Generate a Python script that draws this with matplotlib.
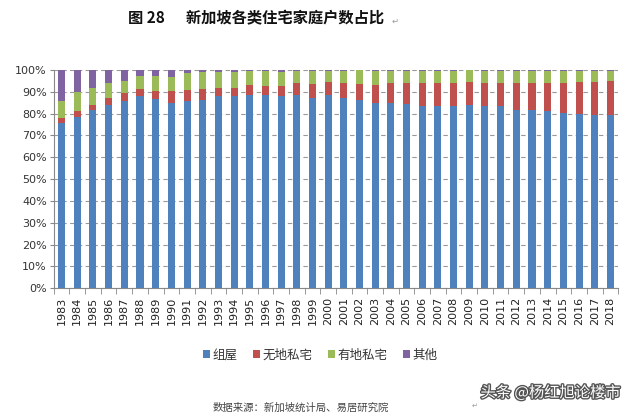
import matplotlib
matplotlib.use("Agg")
import matplotlib.pyplot as plt
import matplotlib.patheffects as pe
import numpy as np

plt.rcParams['font.family'] = ['Noto Sans CJK SC', 'DejaVu Sans']

years = [str(y) for y in range(1983, 2019)]
hdb = [75.5, 78.5, 81.5, 84.0, 86.0, 87.9, 86.7, 84.8, 86.0, 86.4, 88.2, 88.2,
       88.6, 88.6, 87.9, 88.6, 87.1, 88.6, 87.1, 86.1, 84.8, 84.8, 84.5, 83.3,
       83.6, 83.3, 84.1, 83.6, 83.3, 81.5, 81.8, 81.1, 80.3, 80.0, 79.5, 79.5]
condo = [2.5, 2.5, 2.5, 3.0, 3.5, 3.3, 3.5, 5.4, 5.0, 4.8, 3.5, 3.8,
         4.6, 4.1, 4.8, 5.3, 6.5, 6.1, 6.8, 7.6, 8.4, 9.1, 9.7, 10.9,
         10.6, 10.6, 10.3, 10.6, 10.6, 12.7, 12.4, 12.8, 13.6, 14.7, 15.2, 15.7]
landed = [8.0, 9.0, 8.0, 7.0, 5.5, 6.1, 7.1, 6.8, 7.6, 7.8, 7.4, 7.1,
          6.4, 7.0, 6.5, 5.8, 6.0, 5.0, 5.8, 6.1, 6.5, 5.8, 5.5, 5.5,
          5.5, 5.8, 5.5, 5.5, 5.8, 5.5, 5.5, 5.8, 5.8, 5.0, 5.0, 4.5]
other = [round(100 - a - b - c, 2) for a, b, c in zip(hdb, condo, landed)]

series = [("组屋", hdb, "#4F81BD"), ("无地私宅", condo, "#C0504D"),
          ("有地私宅", landed, "#9BBB59"), ("其他", other, "#8064A2")]

fig = plt.figure(figsize=(6.4, 4.17), dpi=100)
ax = fig.add_axes([0.084, 0.309, 0.882, 0.523])

x = np.arange(len(years))
bottom = np.zeros(len(years))
for name, vals, col in series:
    v = np.array(vals, dtype=float)
    ax.bar(x, v, 0.45, bottom=bottom, color=col, label=name, zorder=3)
    bottom += v

ax.set_xlim(-0.5, len(years) - 0.5)
ax.set_ylim(0, 100)
ax.set_yticks(np.arange(0, 101, 10))
ax.set_yticklabels([f"{v}%" for v in range(0, 101, 10)], fontsize=8, color="#333333",
                   family=['DejaVu Sans'])
ax.yaxis.grid(True, linestyle=(0, (4, 3)), color="#999999", linewidth=0.8, zorder=0)
ax.tick_params(axis='y', length=3, color="#888888", pad=2)

ax.set_xticks(x)
ax.set_xticklabels(years, rotation=90, fontsize=8, color="#222222", family=['DejaVu Sans'])
ax.set_xticks(np.arange(-0.5, len(years), 1), minor=True)
ax.tick_params(axis='x', which='major', length=0, pad=6)
ax.tick_params(axis='x', which='minor', length=4, color="#888888")

for s in ['top', 'right']:
    ax.spines[s].set_visible(False)
for s in ['left', 'bottom']:
    ax.spines[s].set_color("#888888")
    ax.spines[s].set_linewidth(0.8)

leg = fig.legend(loc='center', bbox_to_anchor=(0.50, 0.148), ncol=4, frameon=False,
                 fontsize=9, handlelength=0.6, handleheight=0.6, handletextpad=0.2,
                 columnspacing=1.2)
for t in leg.get_texts():
    t.set_color("#333333")

fig.text(0.40, 0.957, "图 28      新加坡各类住宅家庭户数占比", ha='center', va='center',
         fontsize=11, fontweight='bold', color="#111111")
fig.text(0.612, 0.950, "↵", ha='left', va='center', fontsize=6, color="#999999",
         family=['DejaVu Sans'])

fig.text(0.47, 0.022, "数据来源：新加坡统计局、易居研究院", ha='center', va='center',
         fontsize=7.5, color="#444444")
fig.text(0.737, 0.026, "↵", ha='left', va='center', fontsize=5, color="#999999",
         family=['DejaVu Sans'])

wm = fig.text(0.86, 0.058, "头条 @杨红旭论楼市", ha='center', va='center',
              fontsize=11, color="white")
wm.set_path_effects([pe.withStroke(linewidth=2, foreground="#555555")])

fig.savefig("out.png", dpi=100)
